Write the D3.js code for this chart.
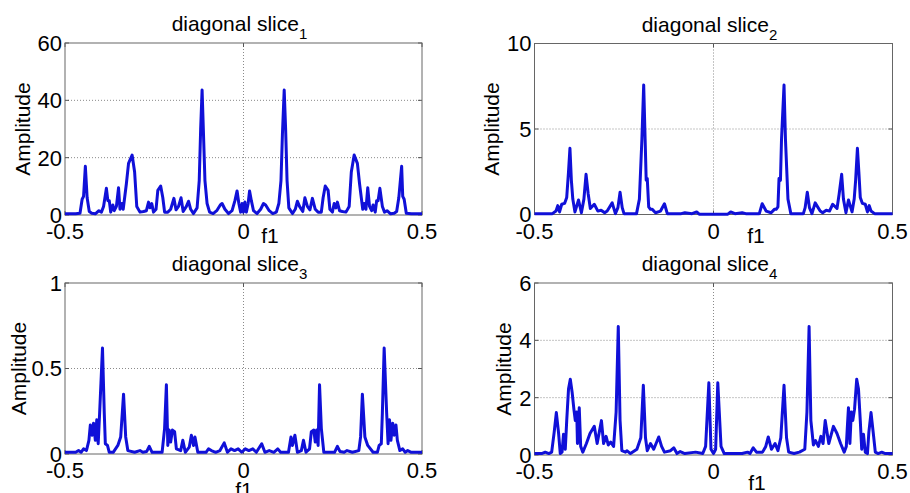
<!DOCTYPE html>
<html>
<head>
<meta charset="utf-8">
<script src="https://cdn.jsdelivr.net/npm/d3@7"></script>
<style>
  body { margin: 0; background: #fff; }
  svg { display: block; }
  text { font-family: "Liberation Sans", Arial, sans-serif; fill: #000; }
</style>
</head>
<body>
<div id="vis"></div>
<script>
// values: [f1, amplitude]
let slice1 = [
  [-0.5, 0.4], [-0.47, 0.4], [-0.458, 0.6], [-0.452, 5.5], [-0.448, 6.5], [-0.443, 17], [-0.438, 6],
  [-0.432, 1.2], [-0.425, 0.6], [-0.415, 0.4], [-0.405, 1.5], [-0.398, 1.0], [-0.392, 3], [-0.384, 9.3],
  [-0.380, 5], [-0.376, 5], [-0.372, 1], [-0.366, 3.5], [-0.362, 1.5], [-0.356, 3], [-0.350, 9.5],
  [-0.346, 2], [-0.341, 4], [-0.337, 2], [-0.328, 11], [-0.322, 18], [-0.312, 20.9], [-0.305, 15],
  [-0.299, 3], [-0.29, 1], [-0.28, 1.2], [-0.272, 1.5], [-0.266, 4.5], [-0.262, 2.5], [-0.257, 4],
  [-0.252, 1], [-0.245, 2], [-0.240, 8.6], [-0.232, 10.1], [-0.226, 6], [-0.221, 1], [-0.212, 1],
  [-0.204, 2], [-0.195, 5.8], [-0.189, 1.8], [-0.182, 3], [-0.175, 6], [-0.169, 1.2], [-0.160, 3],
  [-0.154, 4.8], [-0.148, 2], [-0.140, 0.5], [-0.130, 2.5], [-0.124, 12], [-0.120, 30], [-0.116, 43.6],
  [-0.112, 28], [-0.108, 12], [-0.102, 4], [-0.095, 1], [-0.085, 0.5], [-0.075, 1.5], [-0.065, 3.5],
  [-0.060, 4], [-0.052, 2], [-0.042, 0.5], [-0.032, 1.5], [-0.024, 5], [-0.018, 8.4], [-0.013, 4],
  [-0.008, 1], [-0.004, 4], [0, 1], [0.004, 4.5], [0.008, 1], [0.013, 4], [0.017, 8.4], [0.022, 5],
  [0.028, 1.5], [0.038, 0.5], [0.048, 2], [0.056, 4], [0.062, 3.5], [0.072, 1.5], [0.082, 0.5],
  [0.092, 1], [0.099, 4], [0.105, 12], [0.109, 28], [0.114, 43.6], [0.118, 30], [0.122, 12],
  [0.127, 2.5], [0.137, 0.5], [0.145, 2], [0.151, 4.8], [0.157, 3], [0.166, 1.2], [0.172, 6],
  [0.179, 3], [0.186, 1.8], [0.193, 5.8], [0.201, 2], [0.209, 1], [0.218, 1], [0.223, 6],
  [0.229, 10.1], [0.237, 8.6], [0.242, 2], [0.249, 1], [0.254, 4], [0.259, 2.5], [0.263, 4.5],
  [0.269, 1.5], [0.277, 1.2], [0.287, 1], [0.296, 3], [0.302, 15], [0.310, 20.9], [0.319, 18],
  [0.325, 11], [0.334, 2], [0.338, 4], [0.343, 2], [0.348, 9.5], [0.353, 3], [0.359, 1.5],
  [0.363, 3.5], [0.369, 1], [0.373, 5], [0.377, 5], [0.382, 9.3], [0.389, 3], [0.395, 1],
  [0.402, 1.5], [0.412, 0.4], [0.422, 0.6], [0.429, 1.2], [0.435, 6], [0.443, 17], [0.446, 6.5],
  [0.45, 5.5], [0.456, 0.6], [0.47, 0.4], [0.5, 0.4]
]

let slice2 = [
  [-0.5, 0.05], [-0.45, 0.05], [-0.44, 0.2], [-0.435, 0.52], [-0.43, 0.15], [-0.424, 0.6], [-0.416, 0.65],
  [-0.41, 1.0], [-0.405, 2.5], [-0.401, 3.87], [-0.397, 2.0], [-0.393, 0.9], [-0.387, 0.15], [-0.377, 0.85],
  [-0.369, 0.1], [-0.362, 0.9], [-0.356, 2.35], [-0.350, 1.2], [-0.344, 0.35], [-0.333, 0.6], [-0.323, 0.2],
  [-0.314, 0.25], [-0.304, 0.1], [-0.297, 0.2], [-0.283, 0.68], [-0.274, 0.05], [-0.267, 0.4], [-0.261, 1.3],
  [-0.255, 0.4], [-0.250, 0.05], [-0.215, 0.05], [-0.207, 0.9], [-0.200, 4.4], [-0.195, 7.57], [-0.191, 4.4],
  [-0.188, 2.0], [-0.185, 2.1], [-0.181, 0.45], [-0.176, 0.3], [-0.171, 0.3], [-0.162, 0.1], [-0.148, 0.2],
  [-0.137, 0.63], [-0.129, 0.05], [-0.09, 0.05], [-0.08, 0.1], [-0.06, 0.05], [-0.047, 0.15], [-0.04, 0.02],
  [0.04, 0.02], [0.048, 0.15], [0.06, 0.05], [0.08, 0.1], [0.09, 0.05], [0.128, 0.05], [0.136, 0.63],
  [0.147, 0.2], [0.161, 0.1], [0.170, 0.3], [0.175, 0.3], [0.180, 0.45], [0.183, 2.1], [0.187, 2.0],
  [0.190, 4.4], [0.197, 7.57], [0.201, 4.4], [0.208, 0.9], [0.216, 0.05], [0.251, 0.05], [0.256, 0.4],
  [0.262, 1.3], [0.268, 0.4], [0.275, 0.05], [0.284, 0.68], [0.298, 0.2], [0.305, 0.1], [0.315, 0.25],
  [0.324, 0.2], [0.333, 0.6], [0.345, 0.35], [0.351, 1.2], [0.358, 2.35], [0.363, 0.9], [0.370, 0.1],
  [0.377, 0.85], [0.387, 0.15], [0.393, 0.9], [0.397, 2.0], [0.402, 3.87], [0.406, 2.5], [0.41, 1.0],
  [0.416, 0.65], [0.424, 0.6], [0.43, 0.15], [0.435, 0.52], [0.44, 0.2], [0.45, 0.05], [0.5, 0.05]
]

let slice3 = [
  [-0.5, 0.01], [-0.47, 0.01], [-0.462, 0.02], [-0.455, 0.01], [-0.448, 0.03], [-0.440, 0.02], [-0.433, 0.08],
  [-0.429, 0.17], [-0.424, 0.11], [-0.420, 0.18], [-0.415, 0.08], [-0.411, 0.2], [-0.407, 0.06], [-0.403, 0.24],
  [-0.395, 0.62], [-0.390, 0.24], [-0.387, 0.06], [-0.381, 0.05], [-0.376, 0.01], [-0.365, 0.01], [-0.352, 0.05],
  [-0.344, 0.1], [-0.336, 0.35], [-0.330, 0.1], [-0.324, 0.02], [-0.305, 0.01], [-0.29, 0.02], [-0.282, 0.01],
  [-0.271, 0.015], [-0.264, 0.045], [-0.256, 0.01], [-0.228, 0.01], [-0.221, 0.15], [-0.216, 0.405],
  [-0.212, 0.05], [-0.208, 0.14], [-0.204, 0.07], [-0.199, 0.14], [-0.193, 0.13], [-0.188, 0.03],
  [-0.176, 0.02], [-0.170, 0.08], [-0.163, 0.01], [-0.152, 0.04], [-0.146, 0.11], [-0.140, 0.05],
  [-0.136, 0.1], [-0.128, 0.01], [-0.105, 0.01], [-0.098, 0.03], [-0.09, 0.02], [-0.078, 0.01],
  [-0.066, 0.02], [-0.054, 0.065], [-0.045, 0.01], [-0.035, 0.03], [-0.025, 0.02], [-0.015, 0.03],
  [-0.005, 0.01], [0.005, 0.03], [0.015, 0.02], [0.026, 0.03], [0.036, 0.01], [0.051, 0.06], [0.06, 0.01],
  [0.072, 0.02], [0.085, 0.01], [0.096, 0.03], [0.104, 0.01], [0.126, 0.01], [0.133, 0.1], [0.137, 0.05],
  [0.144, 0.11], [0.151, 0.01], [0.162, 0.02], [0.168, 0.08], [0.175, 0.01], [0.185, 0.03], [0.190, 0.13],
  [0.197, 0.14], [0.201, 0.07], [0.205, 0.14], [0.209, 0.05], [0.213, 0.405], [0.218, 0.15], [0.225, 0.01],
  [0.255, 0.01], [0.263, 0.045], [0.270, 0.015], [0.282, 0.01], [0.29, 0.02], [0.305, 0.01], [0.323, 0.02],
  [0.328, 0.1], [0.333, 0.35], [0.340, 0.1], [0.348, 0.05], [0.363, 0.01], [0.375, 0.01], [0.380, 0.05],
  [0.386, 0.06], [0.389, 0.24], [0.394, 0.62], [0.401, 0.24], [0.405, 0.06], [0.409, 0.2], [0.413, 0.08],
  [0.418, 0.18], [0.422, 0.11], [0.427, 0.17], [0.431, 0.08], [0.438, 0.02], [0.446, 0.03], [0.453, 0.01],
  [0.46, 0.02], [0.47, 0.01], [0.5, 0.01]
]

let slice4 = [
  [-0.5, 0.05], [-0.48, 0.05], [-0.47, 0.1], [-0.46, 0.05], [-0.452, 0.1], [-0.445, 0.8], [-0.439, 1.48],
  [-0.433, 0.8], [-0.428, 0.05], [-0.423, 0.1], [-0.419, 0.72], [-0.414, 0.2], [-0.41, 1.2], [-0.405, 2.3],
  [-0.400, 2.64], [-0.395, 2.2], [-0.390, 1.6], [-0.386, 1.2], [-0.382, 1.5], [-0.380, 0.4], [-0.377, 1.0],
  [-0.375, 1.65], [-0.371, 0.3], [-0.365, 0.1], [-0.355, 0.4], [-0.345, 0.75], [-0.333, 1.0], [-0.325, 0.4],
  [-0.313, 1.2], [-0.307, 0.4], [-0.300, 0.65], [-0.294, 0.35], [-0.287, 0.45], [-0.279, 0.3], [-0.272, 1.5],
  [-0.266, 4.48], [-0.261, 1.2], [-0.256, 0.15], [-0.246, 0.1], [-0.242, 0.15], [-0.232, 0.05], [-0.214, 0.2],
  [-0.203, 0.6], [-0.196, 2.43], [-0.190, 0.6], [-0.185, 0.15], [-0.176, 0.4], [-0.167, 0.2], [-0.153, 0.63],
  [-0.145, 0.3], [-0.137, 0.1], [-0.120, 0.15], [-0.111, 0.25], [-0.102, 0.05], [-0.093, 0.12], [-0.08, 0.05],
  [-0.05, 0.1], [-0.03, 0.05], [-0.022, 0.3], [-0.013, 2.52], [-0.007, 0.2], [0, 0.05], [0.006, 0.2],
  [0.012, 2.52], [0.021, 0.3], [0.03, 0.05], [0.06, 0.05], [0.08, 0.05], [0.095, 0.1], [0.102, 0.05],
  [0.111, 0.25], [0.12, 0.1], [0.137, 0.1], [0.146, 0.3], [0.153, 0.63], [0.162, 0.2], [0.172, 0.4],
  [0.180, 0.15], [0.188, 0.6], [0.197, 2.43], [0.204, 0.6], [0.210, 0.1], [0.225, 0.05], [0.24, 0.1],
  [0.255, 0.2], [0.261, 1.5], [0.267, 4.48], [0.272, 1.2], [0.279, 0.35], [0.285, 0.5], [0.293, 0.3],
  [0.300, 0.65], [0.306, 0.4], [0.312, 1.2], [0.322, 0.4], [0.335, 1.0], [0.345, 0.75], [0.355, 0.4],
  [0.365, 0.1], [0.371, 0.3], [0.374, 1.0], [0.377, 1.65], [0.381, 0.4], [0.385, 1.5], [0.389, 1.2],
  [0.394, 1.6], [0.400, 2.64], [0.405, 2.3], [0.41, 1.2], [0.414, 0.2], [0.419, 0.72], [0.424, 0.1],
  [0.43, 0.05], [0.434, 0.8], [0.44, 1.48], [0.446, 0.8], [0.452, 0.1], [0.46, 0.05], [0.47, 0.1],
  [0.48, 0.05], [0.5, 0.05]
]

let xTicks = [-0.5, 0, 0.5]
let yTicks1 = [0, 20, 40, 60]
let yTicks2 = [0, 5, 10]
let yTicks3 = [0, 0.5, 1]
let yTicks4 = [0, 2, 4, 6]
let subscripts = ['1', '2', '3', '4']

let width = 910, height = 493

// axes boxes, label spots
let panels = [
  { data: slice1, ticks: yTicks1, sub: subscripts[0], left: 65, top: 43, w: 357, h: 172, ylabX: 30, xlab: [270, 243] },
  { data: slice2, ticks: yTicks2, sub: subscripts[1], left: 534.5, top: 43.5, w: 358, h: 171, ylabX: 499, xlab: [756, 243] },
  { data: slice3, ticks: yTicks3, sub: subscripts[2], left: 65, top: 283, w: 357, h: 171, ylabX: 26, xlab: [244, 497] },
  { data: slice4, ticks: yTicks4, sub: subscripts[3], left: 534.5, top: 283, w: 358, h: 172, ylabX: 511, xlab: [757, 490] }
]

let svg = d3.select('#vis')
  .append('svg')
  .attr('width', width)
  .attr('height', height)
  .style('background-color', '#fff')

panels.forEach(function(p) {
  let x = d3.scaleLinear().domain([-0.5, 0.5]).range([p.left, p.left + p.w])
  let y = d3.scaleLinear().domain([p.ticks[0], p.ticks[p.ticks.length - 1]]).range([p.top + p.h, p.top])
  let g = svg.append('g')

  // dotted grid
  g.selectAll('.gx').data(xTicks.slice(1, -1)).enter().append('line')
    .attr('x1', d => x(d)).attr('x2', d => x(d))
    .attr('y1', p.top).attr('y2', p.top + p.h)
    .attr('stroke', '#8a8a8a').attr('stroke-dasharray', '1,2')
  g.selectAll('.gy').data(p.ticks.slice(1, -1)).enter().append('line')
    .attr('x1', p.left).attr('x2', p.left + p.w)
    .attr('y1', d => y(d)).attr('y2', d => y(d))
    .attr('stroke', '#8a8a8a').attr('stroke-dasharray', '1,2')

  // inward ticks, matlab style
  let tk = 4
  g.selectAll('.tx').data(xTicks).enter().append('path')
    .attr('d', d => `M${x(d)},${p.top + p.h}v${-tk}M${x(d)},${p.top}v${tk}`)
    .attr('stroke', '#555')
  g.selectAll('.ty').data(p.ticks).enter().append('path')
    .attr('d', d => `M${p.left},${y(d)}h${tk}M${p.left + p.w},${y(d)}h${-tk}`)
    .attr('stroke', '#555')

  // box
  g.append('rect')
    .attr('x', p.left).attr('y', p.top)
    .attr('width', p.w).attr('height', p.h)
    .attr('fill', 'none').attr('stroke', '#666')

  // the slice
  let line = d3.line().x(d => x(d[0])).y(d => y(d[1]))
  g.append('path')
    .datum(p.data)
    .attr('d', line)
    .attr('fill', 'none')
    .attr('stroke', '#1010d8')
    .attr('stroke-width', 3)
    .attr('stroke-linejoin', 'round')

  // tick labels
  g.selectAll('.xl').data(xTicks).enter().append('text')
    .attr('x', d => x(d))
    .attr('y', p.top + p.h + 24)
    .attr('text-anchor', 'middle')
    .style('font-size', '22px')
    .text(d => d)
  g.selectAll('.yl').data(p.ticks).enter().append('text')
    .attr('x', p.left - 3)
    .attr('y', d => y(d))
    .attr('dy', '0.36em')
    .attr('text-anchor', 'end')
    .style('font-size', '22px')
    .text(d => d)

  // title with subscript
  let t = g.append('text')
    .attr('x', p.left + p.w / 2 - 4)
    .attr('y', p.top - 12)
    .attr('text-anchor', 'middle')
    .style('font-size', '21px')
  t.append('tspan').text('diagonal slice')
  t.append('tspan').attr('dy', 8).style('font-size', '15px').text(p.sub)

  g.append('text')
    .attr('transform', `translate(${p.ylabX},${p.top + p.h / 2}) rotate(-90)`)
    .attr('text-anchor', 'middle')
    .style('font-size', '21px')
    .text('Amplitude')

  g.append('text')
    .attr('x', p.xlab[0])
    .attr('y', p.xlab[1])
    .attr('text-anchor', 'middle')
    .style('font-size', '21px')
    .text('f1')
})
</script>
</body>
</html>
